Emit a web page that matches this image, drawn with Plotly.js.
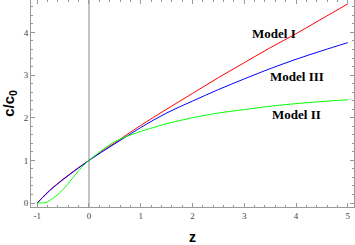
<!DOCTYPE html>
<html>
<head>
<meta charset="utf-8">
<script src="https://cdn.plot.ly/plotly-3.0.1.min.js"></script>
<style>html,body{margin:0;padding:0;background:#fff;}#chart{width:355px;height:245px;}</style>
</head>
<body>
<div id="chart"></div>
<script>
// redshift grid
const zModelI = [-1, -0.9, -0.75, -0.5, -0.25, 0, 0.25, 0.5, 0.75, 1, 1.5, 2, 2.5, 3, 3.5, 4, 4.5, 5];
const cModelI = [0, 0.13, 0.31, 0.56, 0.79, 1, 1.21, 1.41, 1.62, 1.82, 2.2, 2.57, 2.94, 3.29, 3.64, 3.97, 4.32, 4.67];

const zModelIII = [-1, -0.9, -0.75, -0.5, -0.25, 0, 0.25, 0.5, 0.75, 1, 1.5, 2, 2.5, 3, 3.5, 4, 4.5, 5];
const cModelIII = [0, 0.12, 0.3, 0.55, 0.78, 1, 1.2, 1.39, 1.58, 1.77, 2.11, 2.39, 2.66, 2.91, 3.15, 3.37, 3.57, 3.76];

const zModelII = [-1, -0.95, -0.9, -0.85, -0.8, -0.75, -0.7, -0.6, -0.5, -0.4, -0.3, -0.2, -0.1, 0, 0.25, 0.5, 0.75, 1, 1.5, 2, 2.5, 3, 3.5, 4, 4.5, 5];
const cModelII = [0, 0, 0.002, 0.01, 0.03, 0.07, 0.11, 0.2, 0.32, 0.46, 0.61, 0.76, 0.89, 1, 1.24, 1.44, 1.57, 1.68, 1.86, 2.0, 2.11, 2.19, 2.27, 2.33, 2.38, 2.42];

const xTickVals = [-1, 0, 1, 2, 3, 4, 5];
const yTickVals = [0, 1, 2, 3, 4];
const labelText = ['Model I', 'Model III', 'Model II'];
const labelZ = [3.57, 4.01, 4.01];
const labelC = [3.98, 2.97, 2.08];

const traces = [
  {x: zModelI, y: cModelI, mode: 'lines', line: {color: '#ff0000', width: 1, shape: 'spline'}, hoverinfo: 'none'},
  {x: zModelIII, y: cModelIII, mode: 'lines', line: {color: '#0000ff', width: 1, shape: 'spline'}, hoverinfo: 'none'},
  {x: zModelII, y: cModelII, mode: 'lines', line: {color: '#00ff00', width: 1, shape: 'spline', smoothing: 0.6}, hoverinfo: 'none'}
];

const axisCommon = {
  showgrid: false,
  showline: true,
  linecolor: '#999',
  linewidth: 1,
  mirror: 'allticks',
  ticks: 'inside',
  ticklen: 4,
  tickcolor: '#999',
  tickwidth: 1,
  tickfont: {family: 'Liberation Serif, Times New Roman, serif', size: 9, color: '#444'}
};

const layout = {
  width: 355,
  height: 245,
  margin: {l: 31, r: 1, t: 0, b: 38},
  paper_bgcolor: '#fff',
  plot_bgcolor: '#fff',
  showlegend: false,
  xaxis: Object.assign({}, axisCommon, {
    range: [-1.12, 5.12],
    tickvals: xTickVals,
    ticktext: xTickVals.map(String),
    minor: {dtick: 0.2, tick0: 0, ticks: 'inside', ticklen: 2, tickcolor: '#999', showgrid: false},
    zeroline: true,
    zerolinecolor: '#c4c4c4',
    zerolinewidth: 2,
    title: {text: '<b>z</b>', font: {family: 'Liberation Sans, Arial, sans-serif', size: 14, color: '#000'}, standoff: 12}
  }),
  yaxis: Object.assign({}, axisCommon, {
    range: [-0.093, 4.76],
    tickvals: yTickVals,
    ticktext: yTickVals.map(String),
    minor: {dtick: 0.2, tick0: 0, ticks: 'inside', ticklen: 2, tickcolor: '#999', showgrid: false},
    zeroline: false,
    title: {text: '<b>c/c<sub>0</sub></b>', font: {family: 'Liberation Sans, Arial, sans-serif', size: 15, color: '#000'}, standoff: 6}
  }),
  annotations: labelText.map((t, i) => ({
    x: labelZ[i], y: labelC[i], xref: 'x', yref: 'y',
    text: '<b>' + t + '</b>', showarrow: false,
    font: {family: 'Liberation Serif, Times New Roman, serif', size: 13, color: '#000'}
  }))
};

Plotly.newPlot('chart', traces, layout, {staticPlot: true, displayModeBar: false});
</script>
</body>
</html>
